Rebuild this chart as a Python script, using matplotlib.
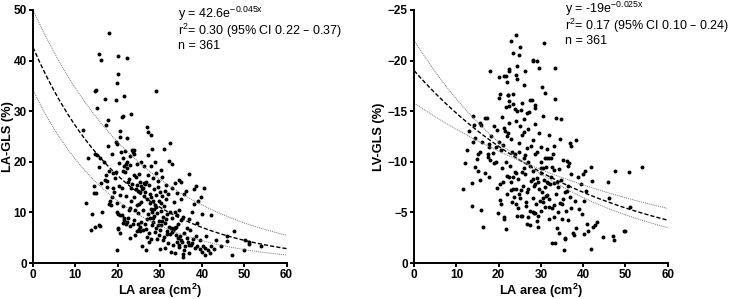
import numpy as np
import matplotlib.pyplot as plt

plt.rcParams['font.family'] = ['Liberation Sans', 'DejaVu Sans']
plt.rcParams['mathtext.default'] = 'regular'

# LA area (cm2) vs LA-GLS (%)
la_area_a = [18.0, 15.5, 16.0, 20.0, 22.2, 20.2, 19.8, 14.7, 14.9, 17.0, 19.6, 21.5, 29.2, 15.2,
             21.0, 21.3, 23.2, 17.2, 17.8, 11.8, 27.0, 27.3, 28.0, 20.7, 20.7, 22.2,
             12.5, 13.1, 13.8, 14.0, 14.4, 14.5, 14.6, 14.7, 15.0, 15.2, 15.5, 15.7, 15.9, 15.8,
             16.4, 16.8, 17.0, 17.2, 17.6, 17.8, 17.9, 18.0, 18.2, 18.4, 18.6, 19.0, 19.2, 19.5,
             19.6, 19.8, 19.8, 19.9, 20.0, 20.0, 19.7, 19.9, 20.1, 20.3, 20.3, 20.5, 20.6,
             20.8, 21.0, 21.2, 21.3, 21.4, 21.5, 21.6, 21.8, 21.8, 22.0, 22.0, 22.1, 22.2, 22.3,
             22.4, 22.5, 22.6, 22.8, 22.9, 23.0, 23.0, 23.2, 23.3, 23.5, 23.5, 23.6, 23.7, 23.8,
             24.0, 24.0, 24.2, 24.3, 24.4, 24.5, 24.5, 24.6, 24.7, 24.8, 24.9, 25.0, 25.0, 25.0,
             25.2, 25.3, 25.4, 25.5, 25.6, 25.6, 25.8, 25.8, 26.0, 26.0, 26.2, 26.2, 26.3, 26.5,
             26.6, 26.7, 26.8, 26.9, 27.0, 27.0, 27.1, 27.2, 27.3, 27.4, 27.5, 27.6, 27.8, 28.0,
             28.0, 28.0, 28.1, 28.2, 28.3, 28.4, 28.5, 28.5, 28.6, 28.7, 28.8, 28.9, 29.0, 29.0,
             29.2, 29.3, 29.3, 29.5, 29.6, 29.8, 29.9, 30.0,
             30.0, 30.1, 30.2, 30.3, 30.4, 30.5, 30.6, 30.7, 30.8, 31.0, 31.0, 31.1, 31.2, 31.3,
             31.4, 31.5, 31.6, 31.8, 32.0, 32.0, 32.1, 32.2, 32.3, 32.4, 32.5, 32.6, 32.7, 32.8,
             32.9, 33.0, 33.1, 33.2, 33.3, 33.4, 33.5, 33.6, 33.7, 33.8, 34.0, 34.0, 34.1, 34.3,
             34.5, 34.5, 34.6, 34.7, 34.9, 35.0,
             35.0, 35.2, 35.4, 35.5, 35.6, 35.7, 35.8, 36.0, 36.2, 36.4, 36.5, 36.6, 36.8, 37.0,
             37.0, 37.2, 37.4, 37.6, 37.8, 38.0, 38.2, 38.4, 38.5, 38.6, 38.8, 39.0, 39.4, 39.6,
             39.8, 40.0, 40.0,
             40.2, 40.5, 40.6, 40.8, 41.0, 41.5, 41.8, 42.0, 42.2, 42.8, 43.2, 44.5, 45.8, 46.0,
             47.2, 47.5, 50.0, 50.2, 51.0, 51.2, 54.0,
             28.2, 28.6, 28.9, 27.8, 29.0, 33.0, 33.5, 33.8, 32.8, 34.2, 35.0, 34.6, 26.0, 25.6,
             26.6, 24.0, 23.8, 22.9, 21.5, 21.2, 22.2, 24.8, 25.4, 26.8, 30.6, 31.5, 29.8, 31.8,
             36.8, 37.6, 38.8, 35.8, 27.5, 30.4, 31.2, 28.0, 29.5, 24.2, 23.0, 20.5, 21.0, 19.0,
             18.6, 17.5, 16.0]
la_gls = [45.5, 41.3, 40.2, 40.9, 40.5, 37.4, 35.5, 34.0, 34.2, 32.5, 32.3, 33.0, 33.9, 30.6,
          28.9, 29.1, 29.5, 27.3, 28.3, 26.2, 26.8, 25.8, 25.2, 26.0, 24.9, 24.8,
          11.9, 20.7, 6.6, 9.7, 13.8, 15.3, 7.1, 21.5, 13.8, 21.4, 19.0, 7.6, 7.3, 20.8,
          10.0, 20.0, 16.5, 17.3, 16.2, 23.2, 11.7, 18.2, 12.3, 11.4, 21.6, 17.8, 14.0, 16.9,
          24.0, 23.6, 10.0, 2.5, 7.0, 6.7, 17.9, 11.8, 9.7, 15.2, 19.8, 9.5, 5.9,
          22.0, 9.5, 11.2, 18.2, 20.8, 8.5, 19.2, 18.0, 22.2, 7.8, 13.2, 19.6, 20.0, 18.8,
          16.0, 9.0, 10.4, 16.6, 7.3, 21.2, 5.0, 14.8, 12.3, 22.3, 15.6, 7.8, 22.0, 17.3,
          8.6, 13.0, 5.6, 14.6, 17.0, 11.5, 6.4, 15.5, 19.5, 14.3, 9.8, 6.8, 11.7, 17.6,
          14.0, 6.3, 16.0, 8.2, 12.0, 20.0, 3.3, 14.6, 10.5, 6.5, 19.2, 15.9, 13.2, 7.7,
          14.0, 2.6, 16.0, 5.2, 8.8, 12.6, 17.3, 21.3, 9.7, 15.4, 6.0, 11.8, 13.7, 10.6,
          4.8, 19.2, 7.5, 22.5, 16.8, 9.0, 12.2, 8.2, 14.7, 10.7, 6.1, 20.0, 11.0, 13.4,
          17.8, 9.8, 4.8, 7.6, 15.0, 12.3, 8.3, 14.0,
          2.8, 6.5, 18.4, 10.2, 7.5, 17.1, 13.3, 4.6, 9.1, 5.2, 22.5, 11.3, 7.9, 3.0,
          15.4, 12.6, 6.4, 9.7, 4.0, 13.6, 20.2, 7.2, 23.8, 10.0, 5.8, 6.9, 2.2, 14.9,
          9.0, 19.5, 6.6, 3.6, 12.0, 7.0, 15.8, 1.9, 10.1, 5.5, 9.5, 4.1, 13.9, 7.7,
          16.5, 3.1, 10.4, 5.3, 12.7, 8.6,
          16.0, 4.2, 9.1, 1.3, 1.8, 6.0, 13.6, 3.3, 14.2, 7.0, 5.0, 4.2, 17.6, 8.8,
          2.0, 6.5, 3.6, 10.1, 4.8, 11.7, 14.6, 3.0, 5.4, 15.3, 8.0, 12.3, 2.8, 4.5,
          13.1, 2.1, 9.6,
          3.4, 14.9, 1.7, 3.0, 5.4, 2.5, 2.0, 9.5, 3.3, 2.8, 4.5, 3.3, 5.3, 4.4,
          1.7, 6.3, 2.6, 4.5, 4.1, 3.7, 3.3,
          10.1, 9.4, 11.5, 9.0, 7.0, 6.8, 6.9, 7.1, 6.2, 4.9, 4.6, 3.6, 14.9, 15.3,
          15.6, 22.4, 21.5, 19.3, 9.0, 7.9, 8.1, 7.8, 7.2, 6.8, 8.3, 8.8, 5.5, 5.7,
          3.6, 4.0, 3.4, 2.5, 4.1, 11.8, 14.3, 13.1, 16.2, 10.5, 10.9, 13.5, 14.8, 14.9,
          13.0, 15.0, 15.8]

# LA area (cm2) vs LV-GLS (%)
la_area_b = [24.0, 23.0, 30.8, 25.0, 23.5, 24.7, 28.0, 28.2, 29.1, 24.3, 33.4, 29.6, 22.4, 22.5,
             18.0, 26.3, 24.0, 20.0, 21.2, 21.8, 24.4, 21.9, 26.0, 30.2, 22.1, 22.2, 20.3, 20.1,
             23.3, 31.0, 22.4, 27.3, 27.8, 33.3, 25.4, 22.5, 23.5, 23.9, 24.3, 25.3, 28.7, 28.6,
             21.7, 26.7, 27.2, 30.6, 33.5, 34.8, 20.8, 16.8, 17.3, 14.0, 14.2, 15.5, 15.8, 19.7,
             21.3, 21.6, 25.1, 27.0, 28.5, 18.2, 21.9, 22.1, 23.0, 26.1, 29.6, 31.8, 34.5, 38.2,
             36.8, 37.0, 14.4, 13.0, 14.0, 17.7, 17.8, 19.3, 21.0, 24.7, 27.7, 30.0, 31.5, 33.0,
             12.6, 15.2, 15.5, 17.5, 18.6, 20.6, 23.2, 23.8, 24.9, 26.0, 26.3, 28.7, 30.9, 32.0,
             32.4, 35.2, 36.2, 36.6, 36.3,
             11.6, 12.0, 13.8, 13.7, 14.3, 15.6, 15.8, 16.4, 16.8, 17.4, 17.8, 18.9, 19.4, 19.6,
             19.8, 20.2, 20.4, 20.5, 21.0, 21.3, 21.3, 21.8, 22.0, 22.4, 22.8, 22.9, 23.2, 23.5,
             23.8, 24.0, 24.0, 24.3, 24.5, 24.8, 25.2, 25.5, 25.5, 25.8, 26.2, 26.5, 26.7, 26.9,
             27.0, 27.3, 27.5, 27.7, 28.0, 28.2, 28.4, 28.6, 28.8, 29.0, 29.2, 29.4, 29.7, 29.9,
             30.0, 30.3, 30.5, 30.8, 31.0, 31.2, 31.4, 31.6, 31.8, 32.0, 32.3, 32.5, 32.7, 33.0,
             33.2, 33.4, 33.5, 33.7, 34.0, 34.2, 34.4, 34.7, 35.0, 35.2, 35.5, 35.7, 35.8, 36.0,
             36.2, 36.5, 36.8, 37.0, 37.2, 37.5, 37.8, 38.0, 38.3, 38.8, 39.0, 39.4, 39.8, 40.0,
             40.1, 40.3, 40.5, 40.6, 40.9, 41.2, 41.8, 41.8, 42.0, 42.4, 42.8, 43.2, 44.7, 45.8,
             46.0, 47.0, 47.2, 47.4, 49.6, 50.0, 50.8, 51.0, 54.0,
             22.0, 23.4, 24.2, 25.0, 25.9, 26.8, 27.4, 28.1, 28.4, 29.0, 29.5, 30.0, 30.4, 31.0,
             31.5, 32.2, 32.6, 33.0, 33.8, 34.2, 29.2, 28.2, 28.6, 27.0, 25.3, 30.6, 31.2, 31.9,
             33.0, 34.0, 35.0, 35.6, 36.5, 30.0, 31.4, 32.9, 29.0, 26.6, 28.0, 25.4, 22.4, 20.0,
             19.0, 24.2, 26.0, 18.0, 16.0, 14.8, 15.0, 20.7, 21.8, 22.7, 23.7, 26.4, 24.6]
lv_gls = [-22.5, -21.9, -21.7, -21.3, -20.7, -20.5, -20.1, -20.0, -20.0, -19.5, -19.3, -19.3, -19.2, -19.0,
          -19.0, -19.0, -18.6, -18.4, -18.5, -18.5, -18.2, -17.9, -17.6, -17.4, -16.6, -16.6, -16.7, -16.3,
          -16.7, -16.8, -16.0, -16.1, -16.1, -16.2, -15.8, -15.5, -15.7, -15.2, -15.0, -15.1, -15.6, -15.3,
          -15.4, -14.8, -14.9, -14.5, -14.3, -14.2, -14.4, -14.3, -14.3, -14.5, -13.6, -13.8, -13.6, -13.1,
          -13.3, -13.0, -13.5, -13.2, -13.7, -12.5, -12.5, -12.8, -12.3, -12.9, -12.8, -12.6, -12.3, -12.2,
          -11.9, -11.6, -12.4, -13.0, -12.0, -11.8, -11.5, -11.5, -11.7, -11.9, -11.6, -11.5, -11.3, -11.6,
          -11.2, -10.8, -11.0, -10.8, -10.9, -11.2, -11.0, -10.8, -11.0, -10.4, -10.7, -10.8, -10.4, -10.4,
          -10.4, -10.2, -10.1, -9.9, -9.6,
          -7.3, -9.9, -7.9, -5.6, -9.5, -8.2, -5.2, -3.6, -8.9, -10.5, -8.5, -9.9, -10.0, -7.4,
          -4.9, -6.2, -7.8, -5.8, -8.0, -4.6, -4.4, -3.4, -6.8, -8.5, -7.2, -8.0, -6.0, -8.5,
          -9.0, -7.3, -5.8, -4.7, -8.3, -6.8, -7.2, -4.7, -9.0, -7.6, -8.8, -6.0, -3.9, -10.0,
          -7.3, -5.1, -3.8, -8.1, -6.4, -9.1, -4.9, -7.8, -5.8, -4.2, -3.6, -8.0, -6.1, -9.4,
          -5.1, -7.0, -6.4, -8.2, -5.5, -9.5, -6.7, -7.9, -4.4, -6.3, -8.5, -5.4, -2.0, -7.9,
          -4.6, -2.0, -6.8, -3.5, -7.5, -3.0, -5.9, -8.2, -4.4, -6.3, -1.3, -2.5, -2.4, -5.1,
          -7.1, -4.3, -6.5, -8.8, -5.4, -3.0, -2.8, -6.1, -3.5, -8.5, -5.3, -7.8, -4.8, -8.8,
          -2.9, -6.1, -9.1, -7.1, -3.9, -3.2, -9.5, -1.4, -8.1, -3.6, -3.8, -4.1, -2.6, -8.0,
          -6.4, -2.7, -2.3, -9.1, -3.2, -3.2, -9.0, -5.5, -9.5,
          -8.6, -7.3, -8.9, -6.4, -9.4, -7.0, -9.6, -8.3, -7.6, -8.4, -7.3, -8.9, -9.4, -7.5,
          -8.0, -7.8, -9.5, -9.2, -8.0, -9.3, -4.7, -5.0, -4.9, -4.6, -4.7, -6.0, -6.6, -5.5,
          -5.7, -5.0, -5.8, -7.0, -7.6, -10.0, -10.4, -10.8, -11.0, -11.4, -12.2, -12.6, -13.8, -12.0,
          -13.5, -14.0, -14.2, -10.2, -12.0, -10.3, -9.1, -9.4, -10.0, -9.6, -6.5, -5.6, -5.4]

# fitted curves and 95% bands (value at x=0, decay rate)
fit_a = (42.6, 0.045)
band_a = [(50.0, 0.0368), (34.2, 0.051)]
fit_b = (-19.0, 0.025)
band_b = [(-22.0, 0.0306), (-15.8, 0.0179)]

fig = plt.figure(figsize=(7.33, 2.99), dpi=100)
ax1 = fig.add_axes([0.045, 0.12, 0.346, 0.847])
ax2 = fig.add_axes([0.565, 0.12, 0.346, 0.847])

xs = np.linspace(0, 60, 200)


def style(ax, ylabel, label_x):
    for s in ['top', 'right']:
        ax.spines[s].set_visible(False)
    for s in ['left', 'bottom']:
        ax.spines[s].set_linewidth(1.4)
    ax.tick_params(width=1.4, length=3, labelsize=8.5, pad=1.5)
    for lab in ax.get_xticklabels() + ax.get_yticklabels():
        lab.set_fontweight('bold')
    ax.set_xlim(0, 60)
    ax.set_xticks([0, 10, 20, 30, 40, 50, 60])
    ax.set_xlabel('LA area (cm$^{2}$)', fontsize=9.2, fontweight='bold', labelpad=0)
    ax.set_ylabel(ylabel, fontsize=9.2, fontweight='bold')
    ax.yaxis.set_label_coords(label_x, 0.5)


ax1.scatter(la_area_a, la_gls, s=8, color='black', linewidths=0)
ax1.plot(xs, fit_a[0] * np.exp(-fit_a[1] * xs), color='black', ls=(0, (3, 1.5)), lw=1.0)
for a, b in band_a:
    ax1.plot(xs, a * np.exp(-b * xs), color='#777777', ls=(0, (1, 1)), lw=0.7)
ax1.set_ylim(0, 50)
ax1.set_yticks([0, 10, 20, 30, 40, 50])
style(ax1, 'LA-GLS (%)', -0.075)
ax1.text(34.4, 48.4, 'y = 42.6e$^{-0.045x}$', fontsize=9, va='baseline', clip_on=False)
ax1.text(34.4, 45.1, 'r$^{2}$= 0.30 (95% CI 0.22 – 0.37)', fontsize=9, va='baseline', clip_on=False)
ax1.text(34.4, 42.3, 'n = 361', fontsize=9, va='baseline', clip_on=False)

ax2.scatter(la_area_b, lv_gls, s=8, color='black', linewidths=0)
ax2.plot(xs, fit_b[0] * np.exp(-fit_b[1] * xs), color='black', ls=(0, (3, 1.5)), lw=1.0)
for a, b in band_b:
    ax2.plot(xs, a * np.exp(-b * xs), color='#777777', ls=(0, (1, 1)), lw=0.7)
ax2.set_ylim(0, -25)
ax2.set_yticks([0, -5, -10, -15, -20, -25])
style(ax2, 'LV-GLS (%)', -0.114)
ax2.text(35.8, -24.65, 'y = -19e$^{-0.025x}$', fontsize=9, va='baseline', clip_on=False)
ax2.text(35.8, -23.0, 'r$^{2}$= 0.17 (95% CI 0.10 – 0.24)', fontsize=9, va='baseline', clip_on=False)
ax2.text(35.8, -21.6, 'n = 361', fontsize=9, va='baseline', clip_on=False)

fig.savefig('out.png', dpi=100)
